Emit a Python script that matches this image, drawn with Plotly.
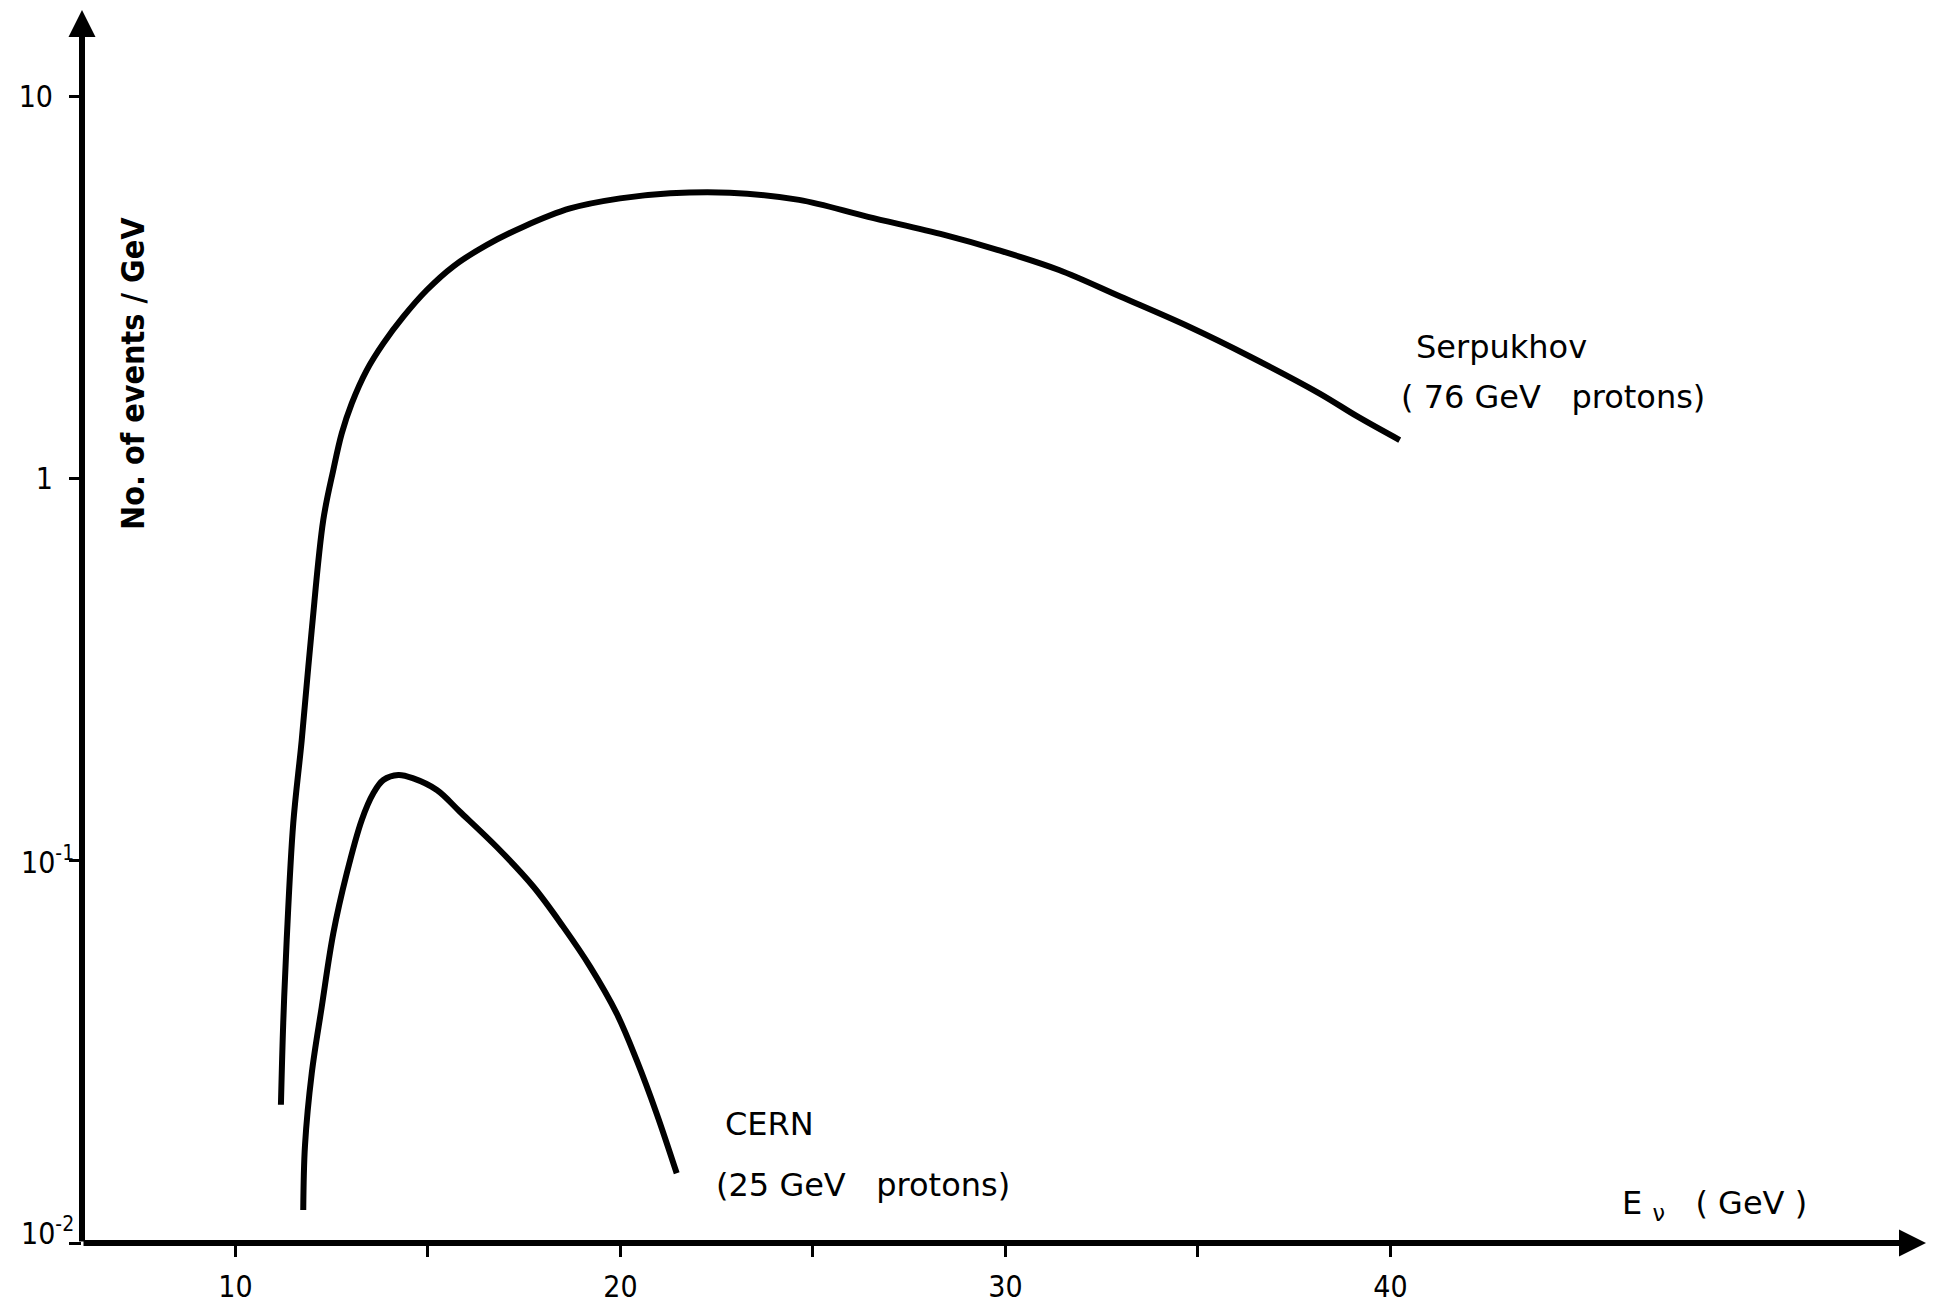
import math
import plotly.graph_objects as go

# ---- data ----
serp_E = [11.18, 11.24, 11.33, 11.50, 11.72, 11.98, 12.28, 12.54, 12.76, 13.02, 13.41, 13.84,
          14.36, 14.97, 15.66, 16.52, 17.48, 18.69, 19.99, 21.29, 22.84, 24.64, 26.43, 28.41,
          29.81, 31.39, 32.98, 34.77, 36.36, 38.15, 39.15, 40.24]
serp_N = [0.0230, 0.0377, 0.0621, 0.1254, 0.207, 0.402, 0.780, 1.054, 1.315, 1.576, 1.926, 2.262,
          2.657, 3.12, 3.60, 4.09, 4.57, 5.10, 5.42, 5.59, 5.61, 5.37, 4.85, 4.35,
          3.97, 3.52, 3.00, 2.50, 2.087, 1.674, 1.454, 1.263]

cern_E = [11.76, 11.805, 11.98, 12.24, 12.54, 12.89, 13.28, 13.58, 13.84, 14.23, 14.62, 15.23,
          15.83, 16.78, 17.74, 18.51, 19.21, 19.90, 20.42, 20.94, 21.46]
cern_N = [0.0122, 0.0180, 0.0278, 0.0415, 0.0646, 0.0928, 0.128, 0.1503, 0.1628, 0.1678, 0.1644, 0.1533,
          0.1345, 0.1089, 0.0856, 0.0673, 0.0529, 0.0399, 0.0301, 0.0218, 0.01522]

x_tickvals = [10, 20, 30, 40]
x_ticktext = ["10", "20", "30", "40"]
x_minor_ticks = [15, 25, 35]
y_tickvals = [1, 10]
y_ticktext = ["1", "10"]
y_exp_vals = [0.1, 0.01]
y_exp_text = ["10<sup>-1</sup>", "10<sup>-2</sup>"]

X_RANGE = [6.013, 53.91]
Y_RANGE_LOG = [-2.0, 1.227]

FONT = "DejaVu Sans"
FONT_C = "DejaVu Sans Condensed, DejaVu Sans"
NB = "\u00a0"
line_style = dict(color="black", width=6, shape="spline", smoothing=1.0)

fig = go.Figure()
fig.add_trace(go.Scatter(x=serp_E, y=serp_N, mode="lines", line=line_style,
                         name="Serpukhov", showlegend=False, hoverinfo="skip"))
fig.add_trace(go.Scatter(x=cern_E, y=cern_N, mode="lines", line=line_style,
                         name="CERN", showlegend=False, hoverinfo="skip"))

# the page body has an 8px margin: the figure is offset by it
fig.update_layout(
    width=1920, height=1298,
    margin=dict(l=74, r=2, t=2, b=63),
    paper_bgcolor="white", plot_bgcolor="white",
    font=dict(family=FONT, color="black", size=30),
    xaxis=dict(range=X_RANGE, showgrid=False, zeroline=False, showline=False, automargin=False,
               tickvals=x_tickvals, ticktext=x_ticktext,
               ticks="outside", ticklen=13, tickwidth=3, tickcolor="black",
               minor=dict(tickvals=x_minor_ticks, ticks="outside", ticklen=13, tickwidth=3,
                          tickcolor="black", showgrid=False),
               ticklabelstandoff=4, tickfont=dict(size=30, family=FONT_C)),
    yaxis=dict(type="log", range=Y_RANGE_LOG, showgrid=False, zeroline=False, showline=False,
               automargin=False,
               tickvals=y_tickvals, ticktext=y_ticktext,
               ticks="outside", ticklen=12, tickwidth=3, tickcolor="black",
               minor=dict(tickvals=y_exp_vals, ticks="outside", ticklen=12, tickwidth=3,
                          tickcolor="black", showgrid=False),
               ticklabelstandoff=10, tickfont=dict(size=30, family=FONT_C)),
)

# exponent-style y tick labels (closer to the axis, as in the original)
for v, t, ys in zip(y_exp_vals, y_exp_text, [0, 12]):
    fig.add_annotation(text=t, x=-0.003, y=math.log10(v), xref="paper", yref="y",
                       xanchor="right", yanchor="middle", yshift=ys, showarrow=False,
                       font=dict(size=30, family=FONT_C, color="black"))

# axes drawn as arrows
fig.add_annotation(x=X_RANGE[1], y=Y_RANGE_LOG[0], ax=X_RANGE[0], ay=Y_RANGE_LOG[0],
                   xref="x", yref="y", axref="x", ayref="y", text="", showarrow=True,
                   arrowhead=2, arrowsize=0.9, arrowwidth=6, arrowcolor="black")
fig.add_annotation(x=X_RANGE[0], y=Y_RANGE_LOG[1], ax=X_RANGE[0], ay=Y_RANGE_LOG[0],
                   xref="x", yref="y", axref="x", ayref="y", text="", showarrow=True,
                   arrowhead=2, arrowsize=0.9, arrowwidth=6, arrowcolor="black")

def label(text, x, y, size=32, **kw):
    fig.add_annotation(text=text, x=x, y=y, xref="paper", yref="paper",
                       xanchor="left", yanchor="middle", showarrow=False,
                       font=dict(size=size, family=FONT, color="black"), **kw)

label("Serpukhov", 0.7221, 0.7267)
label(f"({NB}76{NB}GeV{NB}{NB}{NB}protons)", 0.7140, 0.6861)
label("CERN", 0.3478, 0.0965)
label(f"(25{NB}GeV{NB}{NB}{NB}protons)", 0.3429, 0.0470)
label(f"E{NB}<sub>ν</sub>{NB}{NB}{NB}( GeV )", 0.8342, 0.0308)

fig.add_annotation(text="<b>No. of events / GeV</b>", x=0.0276, y=0.7056,
                   xref="paper", yref="paper", textangle=-90, showarrow=False,
                   xanchor="center", yanchor="middle",
                   font=dict(size=32, family=FONT_C, color="black"))

fig.write_html("out.html")
